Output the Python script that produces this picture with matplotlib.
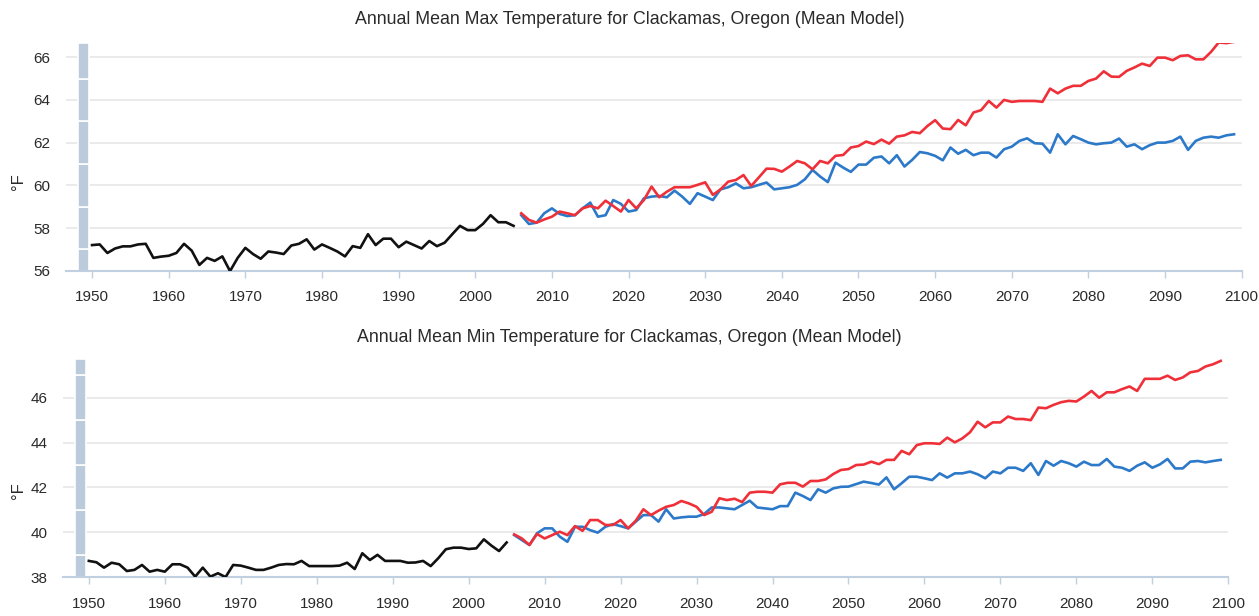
import numpy as np
import matplotlib
matplotlib.use("Agg")
import matplotlib.pyplot as plt
from matplotlib import font_manager

names = {f.name for f in font_manager.fontManager.ttflist}
FONT = ['Liberation Sans Narrow', 'Liberation Sans', 'DejaVu Sans'] if 'Liberation Sans Narrow' in names \
    else ['Liberation Sans', 'DejaVu Sans']
NARROW = 'Liberation Sans Narrow' in names
plt.rcParams['font.family'] = FONT

# ---------------- data ----------------
hist_years = list(range(1950, 2006))
proj_years = list(range(2006, 2100))

max_hist = [57.20, 57.23, 56.83, 57.04, 57.14, 57.14, 57.23, 57.26, 56.60, 56.66,
            56.70, 56.83, 57.26, 56.94, 56.27, 56.60, 56.46, 56.67, 55.98, 56.60,
            57.07, 56.78, 56.56, 56.90, 56.85, 56.78, 57.18, 57.26, 57.47, 56.99,
            57.23, 57.07, 56.90, 56.67, 57.15, 57.07, 57.71, 57.20, 57.50, 57.50,
            57.10, 57.36, 57.20, 57.04, 57.39, 57.15, 57.31, 57.71, 58.10, 57.90,
            57.90, 58.19, 58.60, 58.27, 58.27, 58.10]

max_high = [58.69, 58.38, 58.25, 58.40, 58.53, 58.77, 58.69, 58.60, 58.92, 59.03,
            58.92, 59.28, 59.03, 58.77, 59.31, 58.92, 59.31, 59.94, 59.44, 59.70,
            59.91, 59.91, 59.91, 60.02, 60.14, 59.55, 59.81, 60.17, 60.25, 60.48,
            59.97, 60.37, 60.78, 60.77, 60.64, 60.88, 61.14, 61.03, 60.75, 61.14,
            61.03, 61.38, 61.42, 61.77, 61.84, 62.05, 61.93, 62.14, 61.95, 62.28,
            62.34, 62.50, 62.44, 62.78, 63.05, 62.66, 62.63, 63.06, 62.81, 63.41,
            63.52, 63.95, 63.64, 64.00, 63.91, 63.95, 63.95, 63.95, 63.91, 64.53,
            64.31, 64.53, 64.66, 64.66, 64.89, 65.00, 65.34, 65.09, 65.08, 65.36,
            65.52, 65.70, 65.59, 65.98, 65.98, 65.86, 66.06, 66.09, 65.90, 65.90,
            66.25, 66.69, 66.66, 66.72]

max_low = [58.60, 58.19, 58.25, 58.69, 58.92, 58.66, 58.56, 58.60, 58.92, 59.19,
           58.53, 58.60, 59.31, 59.13, 58.77, 58.84, 59.39, 59.47, 59.50, 59.44,
           59.75, 59.47, 59.13, 59.63, 59.47, 59.31, 59.81, 59.91, 60.09, 59.86,
           59.91, 60.02, 60.13, 59.81, 59.86, 59.91, 60.02, 60.28, 60.72, 60.41,
           60.15, 61.06, 60.83, 60.63, 60.97, 60.97, 61.29, 61.35, 61.03, 61.41,
           60.88, 61.19, 61.56, 61.50, 61.38, 61.17, 61.77, 61.48, 61.66, 61.41,
           61.53, 61.53, 61.30, 61.69, 61.81, 62.08, 62.20, 61.97, 61.95, 61.53,
           62.39, 61.92, 62.31, 62.16, 62.00, 61.92, 61.97, 62.00, 62.19, 61.81,
           61.92, 61.69, 61.88, 62.00, 62.00, 62.08, 62.28, 61.66, 62.08, 62.23,
           62.28, 62.23, 62.34, 62.39]

min_hist = [38.73, 38.67, 38.43, 38.65, 38.58, 38.28, 38.33, 38.55, 38.25, 38.33,
            38.25, 38.58, 38.58, 38.43, 38.03, 38.43, 38.03, 38.18, 38.01, 38.55,
            38.52, 38.43, 38.33, 38.33, 38.43, 38.55, 38.59, 38.58, 38.73, 38.50,
            38.50, 38.50, 38.50, 38.52, 38.65, 38.37, 39.07, 38.77, 39.00, 38.73,
            38.73, 38.73, 38.65, 38.66, 38.73, 38.50, 38.85, 39.25, 39.32, 39.32,
            39.26, 39.29, 39.69, 39.41, 39.17, 39.55]

min_high = [39.91, 39.73, 39.44, 39.93, 39.73, 39.88, 40.03, 39.88, 40.28, 40.07,
            40.55, 40.55, 40.33, 40.33, 40.55, 40.18, 40.52, 41.03, 40.77, 40.97,
            41.14, 41.22, 41.40, 41.29, 41.14, 40.77, 40.92, 41.52, 41.44, 41.50,
            41.35, 41.77, 41.81, 41.81, 41.77, 42.14, 42.21, 42.21, 42.04, 42.29,
            42.29, 42.36, 42.60, 42.78, 42.82, 43.00, 43.02, 43.15, 43.04, 43.23,
            43.23, 43.63, 43.48, 43.89, 43.97, 43.97, 43.94, 44.22, 44.01, 44.19,
            44.46, 44.93, 44.68, 44.90, 44.90, 45.16, 45.05, 45.05, 45.00, 45.56,
            45.53, 45.68, 45.80, 45.86, 45.83, 46.05, 46.30, 46.00, 46.24, 46.24,
            46.38, 46.50, 46.30, 46.84, 46.84, 46.84, 46.98, 46.79, 46.90, 47.13,
            47.19, 47.39, 47.49, 47.64]

min_low = [39.88, 39.66, 39.44, 39.96, 40.18, 40.18, 39.81, 39.58, 40.25, 40.25,
           40.10, 39.99, 40.25, 40.37, 40.28, 40.18, 40.48, 40.77, 40.77, 40.48,
           41.03, 40.62, 40.67, 40.70, 40.70, 40.82, 41.11, 41.11, 41.07, 41.03,
           41.22, 41.41, 41.11, 41.07, 41.03, 41.17, 41.17, 41.77, 41.62, 41.44,
           41.92, 41.77, 41.96, 42.03, 42.04, 42.15, 42.26, 42.20, 42.13, 42.45,
           41.92, 42.19, 42.48, 42.48, 42.41, 42.33, 42.63, 42.44, 42.63, 42.63,
           42.71, 42.59, 42.41, 42.71, 42.63, 42.88, 42.88, 42.74, 43.08, 42.56,
           43.18, 42.97, 43.18, 43.08, 42.93, 43.15, 43.00, 43.00, 43.27, 42.93,
           42.88, 42.74, 42.97, 43.12, 42.88, 43.03, 43.27, 42.85, 42.85, 43.15,
           43.18, 43.12, 43.18, 43.23]

titles = ["Annual Mean Max Temperature for Clackamas, Oregon (Mean Model)",
          "Annual Mean Min Temperature for Clackamas, Oregon (Mean Model)"]
y_label = "°F"
x_ticks = list(range(1950, 2101, 10))

# ---------------- style ----------------
C_HIST = "#111111"
C_HIGH = "#ef3039"
C_LOW = "#2c79c9"
C_BAR = "#bccbdb"
C_GRID = "#e6e6e6"
C_AXIS = "#c0d0e0"
C_TEXT = "#2a2a2a"

TICK_FS = 13.5 if NARROW else 11
TITLE_FS = 15 if NARROW else 12.8
YL_FS = 14 if NARROW else 12

W, H = 1259, 616
fig = plt.figure(figsize=(W / 100, H / 100), dpi=100)

def px_axes(left, right, top, bottom):
    return fig.add_axes([left / W, 1 - bottom / H, (right - left) / W, (bottom - top) / H])

panels = [
    dict(ax=px_axes(66, 1241.7, 42.7, 270.7), hist=max_hist, high=max_high, low=max_low,
         ylim=(56, 66.68), yticks=range(56, 67, 2), title=titles[0], ty=19, yl=(18, 182)),
    dict(ax=px_axes(63, 1228.3, 359.3, 577.3), hist=min_hist, high=min_high, low=min_low,
         ylim=(38, 47.71), yticks=range(38, 47, 2), title=titles[1], ty=338, yl=(18, 491)),
]

for p in panels:
    ax = p["ax"]
    ax.set_xlim(1946.6, 2100)
    ax.set_ylim(*p["ylim"])
    ax.set_yticks(list(p["yticks"]))
    ax.set_xticks(x_ticks)
    ax.grid(axis="y", color=C_GRID, linewidth=1.2, zorder=0)
    ax.set_axisbelow(True)
    for s in ("top", "right", "left"):
        ax.spines[s].set_visible(False)
    ax.spines["bottom"].set_color(C_AXIS)
    ax.spines["bottom"].set_linewidth(1.5)
    ax.tick_params(axis="x", colors=C_AXIS, length=5, width=1, pad=9,
                   labelcolor=C_TEXT, labelsize=TICK_FS)
    ax.tick_params(axis="y", length=0, pad=11, labelcolor=C_TEXT, labelsize=TICK_FS)

    # segmented grey band at the left edge
    lo, hi = p["ylim"]
    edges = [lo] + list(np.arange(lo + 1, hi, 2)) + [hi]
    for b0, b1 in zip(edges[:-1], edges[1:]):
        ax.bar(1948.9, b1 - b0, bottom=b0, width=1.45, color=C_BAR,
               edgecolor="white", linewidth=1.2, zorder=2)

    ax.plot(hist_years, p["hist"], color=C_HIST, lw=1.9, zorder=3,
            solid_joinstyle="round")
    ax.plot(proj_years, p["low"], color=C_LOW, lw=1.9, zorder=3,
            solid_joinstyle="round")
    ax.plot(proj_years, p["high"], color=C_HIGH, lw=1.9, zorder=4,
            solid_joinstyle="round")

    fig.text(p["yl"][0] / W, 1 - p["yl"][1] / H, y_label, rotation=90,
             ha="center", va="center", fontsize=YL_FS, color=C_TEXT)
    fig.text(0.5, 1 - p["ty"] / H, p["title"], ha="center", va="center",
             fontsize=TITLE_FS, color=C_TEXT)

fig.savefig("out.png", dpi=100)
